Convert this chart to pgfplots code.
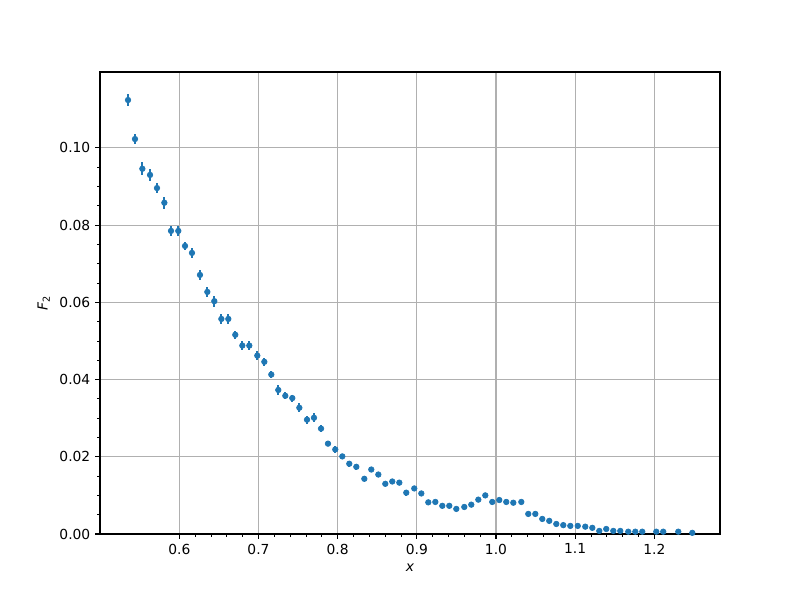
\documentclass[border=0pt]{standalone}
\usepackage{fontspec}
\setmainfont{DejaVu Sans}
\usepackage{pgfplots}
\usepackage{pgfplotstable}
\pgfplotsset{compat=1.18}
\definecolor{C0}{HTML}{1F77B4}
\definecolor{gridgray}{HTML}{B0B0B0}
\pgfplotstableread{
x y e
0.5352 0.1124 0.0016
0.5440 0.1023 0.0014
0.5533 0.0946 0.0017
0.5630 0.0930 0.0016
0.5718 0.0896 0.0014
0.5811 0.0858 0.0015
0.5895 0.0785 0.0014
0.5987 0.0785 0.0014
0.6072 0.0746 0.0010
0.6160 0.0728 0.0013
0.6261 0.0671 0.0014
0.6354 0.0627 0.0014
0.6442 0.0603 0.0014
0.6531 0.0557 0.0012
0.6619 0.0557 0.0012
0.6707 0.0516 0.0011
0.6796 0.0488 0.0012
0.6884 0.0488 0.0012
0.6985 0.0462 0.0012
0.7074 0.0446 0.0010
0.7162 0.0413 0.0009
0.7250 0.0373 0.0012
0.7339 0.0358 0.0009
0.7427 0.0352 0.0009
0.7516 0.0327 0.0011
0.7613 0.0296 0.0010
0.7701 0.0301 0.0012
0.7790 0.0273 0.0010
0.7878 0.0234 0.0007
0.7970 0.0219 0.0009
0.8059 0.0201 0.0006
0.8147 0.0182 0.0008
0.8236 0.0174 0.0008
0.8337 0.0143 0.0006
0.8425 0.0167 0.0006
0.8514 0.0154 0.0006
0.8602 0.0130 0.0005
0.8690 0.0136 0.0007
0.8779 0.0133 0.0006
0.8867 0.0107 0.0008
0.8968 0.0118 0.0006
0.9057 0.0105 0.0007
0.9145 0.0082 0.0005
0.9234 0.0083 0.0005
0.9322 0.0073 0.0004
0.9410 0.0073 0.0004
0.9499 0.0065 0.0004
0.9600 0.0070 0.0004
0.9688 0.0076 0.0005
0.9777 0.0089 0.0006
0.9865 0.0100 0.0007
0.9953 0.0083 0.0006
1.0042 0.0088 0.0006
1.0130 0.0083 0.0005
1.0219 0.0081 0.0005
1.0320 0.0083 0.0006
1.0408 0.0052 0.0004
1.0497 0.0052 0.0004
1.0585 0.0039 0.0004
1.0673 0.0034 0.0004
1.0762 0.0026 0.0003
1.0850 0.0023 0.0003
1.0939 0.0021 0.0003
1.1033 0.0021 0.0003
1.1128 0.0019 0.0003
1.1217 0.0016 0.0003
1.1305 0.0008 0.0002
1.1393 0.0013 0.0003
1.1482 0.0008 0.0002
1.1570 0.0008 0.0002
1.1671 0.0006 0.0002
1.1760 0.0006 0.0002
1.1848 0.0006 0.0002
1.2025 0.0006 0.0002
1.2113 0.0006 0.0002
1.2303 0.0006 0.0002
1.2480 0.0003 0.0002
}\datatable
\begin{document}
\begin{tikzpicture}
\path[use as bounding box] (0,0) rectangle (8in,6in);
\begin{axis}[
  at={(1in,0.66in)}, anchor=south west,
  width=6.2in, height=4.62in, scale only axis,
  xmin=0.4998, xmax=1.2830, ymin=0, ymax=0.11966,
  xtick={0.6,0.7,0.8,0.9,1.0,1.1,1.2},
  ytick={0,0.02,0.04,0.06,0.08,0.10},
  minor x tick num=4, minor y tick num=3,
  xticklabel style={/pgf/number format/.cd, fixed, fixed zerofill, precision=1},
  yticklabel style={/pgf/number format/.cd, fixed, fixed zerofill, precision=2},
  /pgf/number format/assume math mode=true,
  tick pos=left, tick align=outside,
  major tick length=3.5pt, minor tick length=2pt,
  every tick/.style={black, line width=0.8pt},
  minor tick style={black, line width=0.6pt},
  axis line style={black, line width=0.8pt},
  grid=major, major grid style={gridgray, line width=0.8pt},
  xlabel={\textit{x}}, ylabel={\textit{F}\raisebox{-0.3ex}{\scriptsize 2}},
  tick label style={font=\fontsize{10}{12}\selectfont},
  label style={font=\fontsize{10}{12}\selectfont},
]
\addplot[only marks, mark=*, mark size=2.0pt, color=C0, mark options={fill=C0, draw=C0, line width=0.5pt},
  error bars/.cd, y dir=both, y explicit, error mark=none,
  error bar style={C0, line width=1.6pt}]
  table[x=x, y=y, y error=e] {\datatable};
\end{axis}
\end{tikzpicture}
\end{document}
